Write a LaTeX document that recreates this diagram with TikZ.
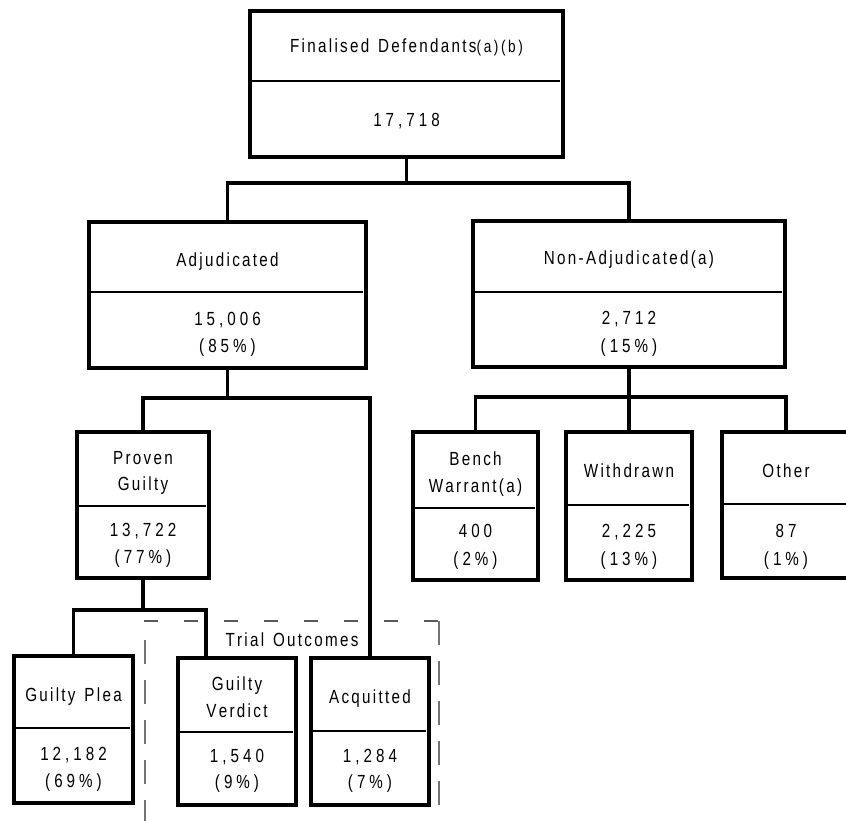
\documentclass[tikz,border=0pt]{standalone}
\usepackage{fontspec}
\setmainfont{Liberation Sans}[FakeStretch=0.8]
\newcommand\mkbox[6]{%
  \node[box, minimum width={(#4-#2)*1pt}, minimum height={(#5-#3)*1pt}] (#1) at ({(#2+#4)/2},{(#3+#5)/2}) {};
  \draw[divl] (#2,#6) -- ({#4-3},#6);}
% tracked text
\def\trkval{2.3pt}
\def\trk#1{\trkfirst#1\relax}
\def\trkfirst#1{#1\trkloop}
\def\trkloop#1{\ifx#1\relax\else\kern\trkval\relax#1\expandafter\trkloop\fi}
\def\tsp{\kern\trkval\relax\ \kern\trkval\relax}
\newcommand\lblfont{\fontsize{19}{22}\selectfont\def\trkval{2.3pt}}
\newcommand\nmfont{\fontsize{19}{22}\selectfont\def\trkval{4pt}}
\newcommand\supfont{\fontsize{17}{19}\selectfont\def\trkval{2.6pt}}
\begin{document}
\begin{tikzpicture}[x=1pt,y=-1pt,
  box/.style={draw, line width=3.6pt, inner sep=0pt, outer sep=0pt},
  divl/.style={line width=1.4pt},
  conn/.style={line width=3.4pt},
  lbl/.style={anchor=base, inner sep=0pt, font=\lblfont},
  num/.style={anchor=base, inner sep=0pt, font=\nmfont},
  dashh/.style={draw=black!65, line width=1.3pt, dash pattern=on 14pt off 26pt},
  dashv/.style={draw=black!55, line width=1.6pt, dash pattern=on 24pt off 16pt}]
\useasboundingbox (0,0) rectangle (846,821);
\fill[white] (0,0) rectangle (846,821);

% dashed trial outcomes frame
\draw[dashh] (144,621) -- (439,621);
\draw[dashv] (145,640) -- (145,830);
\draw[dashv] (439,621) -- (439,830);
\node[lbl] (trial) at (292,646) {\trk{Trial}\tsp\trk{Outcomes}};

% boxes
\mkbox{top}{250}{11}{563}{157}{81}
\mkbox{adj}{89}{222}{366}{368}{292}
\mkbox{non}{473}{221}{785}{367}{292}
\mkbox{pg}{77}{432}{209}{578}{506}
\mkbox{bench}{413}{432}{538}{580}{508}
\mkbox{wd}{566}{432}{692}{580}{505}
\mkbox{other}{722}{432}{850}{578}{504}
\mkbox{gp}{14}{656}{133}{803}{728}
\mkbox{gv}{178}{658}{296}{805}{732}
\mkbox{acq}{311}{658}{429}{805}{731}

% texts
\node[lbl] (topa) at (406.5,53) {\trk{Finalised}\tsp\trk{Defendants}{\supfont\trk{(a)(b)}}};
\node[num] (topb) at (406.5,127) {\trk{17,718}};
\node[lbl] (adja) at (227.5,266) {\trk{Adjudicated}};
\node[num] (adjb) at (227.5,325) {\trk{15,006}};
\node[num] (adjc) at (227.5,352) {\trk{(85\%)}};
\node[lbl] (nona) at (629,265) {\trk{Non-Adjudicated(a)}};
\node[num] (nonb) at (629,324) {\trk{2,712}};
\node[num] (nonc) at (629,352) {\trk{(15\%)}};
\node[lbl] (pga) at (143,464) {\trk{Proven}};
\node[lbl] (pgb) at (143,490) {\trk{Guilty}};
\node[num] (pgc) at (143,536) {\trk{13,722}};
\node[num] (pgd) at (143,563) {\trk{(77\%)}};
\node[lbl] (bea) at (475.5,465) {\trk{Bench}};
\node[lbl] (beb) at (475.5,492) {\trk{Warrant(a)}};
\node[num] (bec) at (475.5,537) {\trk{400}};
\node[num] (bed) at (475.5,565) {\trk{(2\%)}};
\node[lbl] (wda) at (629,477) {\trk{Withdrawn}};
\node[num] (wdb) at (629,537) {\trk{2,225}};
\node[num] (wdc) at (629,565) {\trk{(13\%)}};
\node[lbl] (ota) at (786,477) {\trk{Other}};
\node[num] (otb) at (786,537) {\trk{87}};
\node[num] (otc) at (786,565) {\trk{(1\%)}};
\node[lbl] (gpa) at (73.5,701) {\trk{Guilty}\tsp\trk{Plea}};
\node[num] (gpb) at (73.5,760) {\trk{12,182}};
\node[num] (gpc) at (73.5,787) {\trk{(69\%)}};
\node[lbl] (gva) at (237,690) {\trk{Guilty}};
\node[lbl] (gvb) at (237,717) {\trk{Verdict}};
\node[num] (gvc) at (237,762) {\trk{1,540}};
\node[num] (gvd) at (237,788) {\trk{(9\%)}};
\node[lbl] (aca) at (370,703) {\trk{Acquitted}};
\node[num] (acb) at (370,762) {\trk{1,284}};
\node[num] (acc) at (370,788) {\trk{(7\%)}};

% connectors
\coordinate (j1) at (406.5,183);
\draw[conn] (top.south) -- (j1);
\draw[conn] (adj.north) |- (j1) -| (non.north);
\coordinate (j2) at (227.5,398);
\draw[conn] (adj.south) -- (j2);
\draw[conn] (pg.north) |- (j2) -| (acq.north);
\coordinate (j3) at (629,397);
\draw[conn] (non.south) -- (wd.north);
\draw[conn] (bench.north) |- (j3) -| (other.north);
\coordinate (j4) at (143,610);
\draw[conn] (pg.south) -- (j4);
\coordinate (gvin) at ([xshift=28pt]gv.north west);
\draw[conn] (gp.north) |- (j4) -| (gvin);
\end{tikzpicture}
\end{document}
